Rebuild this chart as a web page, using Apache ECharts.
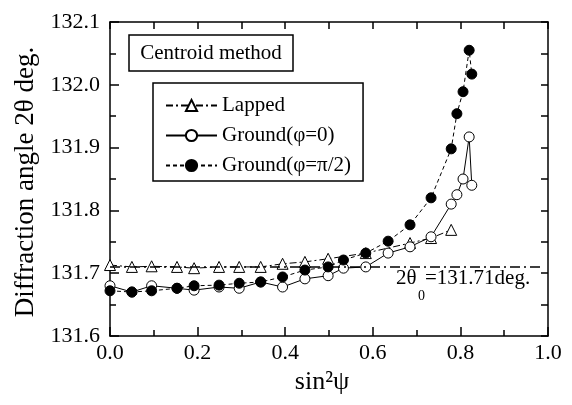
<!DOCTYPE html>
<html>
<head>
<meta charset="utf-8">
<script src="https://cdn.jsdelivr.net/npm/echarts@6/dist/echarts.min.js"></script>
<style>
  html, body { margin: 0; padding: 0; background: #fff; }
  #main { width: 572px; height: 405px; }
</style>
</head>
<body>
<div id="main"></div>
<script>
// sin^2(psi) positions
var lappedX = [0, 0.05, 0.095, 0.153, 0.192, 0.249, 0.295, 0.344, 0.394, 0.445, 0.498, 0.584, 0.685, 0.733, 0.779];
var lappedY = [131.713, 131.710, 131.711, 131.710, 131.708, 131.710, 131.710, 131.710, 131.715, 131.718, 131.723, 131.732, 131.748, 131.756, 131.769];

var groundX = [0, 0.05, 0.095, 0.153, 0.192, 0.249, 0.295, 0.344, 0.394, 0.445, 0.498, 0.533, 0.584, 0.635, 0.685, 0.733, 0.779, 0.792, 0.806, 0.820, 0.826];
var ground0Y = [131.680, 131.670, 131.680, 131.676, 131.673, 131.678, 131.676, 131.686, 131.678, 131.691, 131.696, 131.708, 131.710, 131.732, 131.742, 131.758, 131.810, 131.825, 131.850, 131.917, 131.840];
var groundPiY = [131.672, 131.670, 131.672, 131.676, 131.680, 131.681, 131.684, 131.686, 131.694, 131.705, 131.710, 131.721, 131.732, 131.751, 131.777, 131.820, 131.898, 131.954, 131.989, 132.055, 132.017];

var theta0 = 131.71;   // 2θ0 reference
var xTicks = [0, 1];
var yTicks = [131.6, 132.1];

function zip(xs, ys) {
    return xs.map(function (x, i) { return [x, ys[i]]; });
}

var FONT = 'Liberation Serif';
var myChart = echarts.init(document.getElementById('main'));

var axisBase = {
    type: 'value',
    axisLine: { show: true, onZero: false, lineStyle: { color: '#000', width: 1.5 } },
    splitLine: { show: false },
    axisLabel: { color: '#000', fontFamily: FONT, fontSize: 22 }
};

var option = {
    backgroundColor: '#fff',
    animation: false,
    grid: { left: 110, right: 24, top: 22, bottom: 69, outerBoundsMode: 'none' },
    legend: {
        orient: 'vertical',
        left: 153,
        top: 83,
        padding: [12, 12, 5, 12],
        itemGap: 9,
        itemWidth: 51,
        itemHeight: 14,
        borderColor: '#000',
        borderWidth: 1.5,
        textStyle: { color: '#000', fontFamily: FONT, fontSize: 21 },
        data: ['Lapped', 'Ground(φ=0)', 'Ground(φ=π/2)']
    },
    xAxis: [
        Object.assign({}, axisBase, {
            position: 'bottom',
            min: xTicks[0], max: xTicks[1], interval: 0.2,
            name: 'sin²ψ',
            nameLocation: 'middle',
            nameGap: 29,
            nameTextStyle: { color: '#000', fontFamily: FONT, fontSize: 26, padding: [0, 14, 0, 0] },
            axisTick: { inside: true, length: 9, lineStyle: { color: '#000', width: 1.5 } },
            minorTick: { show: true, splitNumber: 2, length: 6, lineStyle: { color: '#000', width: 1.5 } },
            axisLabel: { color: '#000', fontFamily: FONT, fontSize: 22, margin: 6,
                formatter: function (v) { return v.toFixed(1); } }
        }),
        Object.assign({}, axisBase, {
            position: 'top',
            min: xTicks[0], max: xTicks[1], interval: 0.1,
            axisTick: { inside: true, length: 7, lineStyle: { color: '#000', width: 1.5 } },
            axisLabel: { show: false }
        })
    ],
    yAxis: [
        Object.assign({}, axisBase, {
            position: 'left',
            min: yTicks[0], max: yTicks[1], interval: 0.1,
            axisTick: { inside: true, length: 9, lineStyle: { color: '#000', width: 1.5 } },
            minorTick: { show: true, splitNumber: 2, length: 6, lineStyle: { color: '#000', width: 1.5 } },
            axisLabel: { color: '#000', fontFamily: FONT, fontSize: 22, margin: 10,
                formatter: function (v) { return v.toFixed(1); } }
        }),
        Object.assign({}, axisBase, {
            position: 'right',
            min: yTicks[0], max: yTicks[1], interval: 0.05,
            axisTick: { inside: true, length: 7, lineStyle: { color: '#000', width: 1.5 } },
            axisLabel: { show: false }
        })
    ],
    series: [
        {
            name: 'Lapped',
            type: 'line',
            data: zip(lappedX, lappedY),
            symbol: 'triangle',
            symbolSize: 11,
            itemStyle: { color: '#fff', borderColor: '#000', borderWidth: 1 },
            lineStyle: { color: '#000', width: 1, type: [7, 3, 2, 3] },
            markLine: {
                silent: true,
                symbol: 'none',
                label: { show: false },
                lineStyle: { color: '#000', width: 1.5, type: [10, 4, 2, 4] },
                data: [[{ coord: [0, theta0] }, { coord: [0.99, theta0] }]]
            }
        },
        {
            name: 'Ground(φ=0)',
            type: 'line',
            data: zip(groundX, ground0Y),
            symbol: 'circle',
            symbolSize: 10,
            itemStyle: { color: '#fff', borderColor: '#000', borderWidth: 1 },
            lineStyle: { color: '#000', width: 1, type: 'solid' }
        },
        {
            name: 'Ground(φ=π/2)',
            type: 'line',
            data: zip(groundX, groundPiY),
            symbol: 'circle',
            symbolSize: 10,
            itemStyle: { color: '#000', borderColor: '#000', borderWidth: 1 },
            lineStyle: { color: '#000', width: 1, type: [4, 3] }
        }
    ],
    graphic: [
        {
            // y axis title
            type: 'text',
            x: 26, y: 182,
            rotation: Math.PI / 2,
            style: { text: 'Diffraction angle 2θ deg.', fill: '#000', font: '27px "Liberation Serif"', align: 'center', verticalAlign: 'middle' }
        },
        {
            type: 'rect',
            shape: { x: 129, y: 35, width: 164, height: 36 },
            style: { fill: '#fff', stroke: '#000', lineWidth: 1.5 }
        },
        {
            type: 'text',
            x: 211, y: 53,
            style: { text: 'Centroid method', fill: '#000', font: '21px "Liberation Serif"', align: 'center', verticalAlign: 'middle' }
        },
        {
            type: 'text',
            x: 396, y: 278,
            style: { text: '2θ', fill: '#000', font: '21px "Liberation Serif"', verticalAlign: 'middle' }
        },
        {
            type: 'text',
            x: 418, y: 296,
            style: { text: '0', fill: '#000', font: '14px "Liberation Serif"', verticalAlign: 'middle' }
        },
        {
            type: 'text',
            x: 425, y: 278,
            style: { text: '=131.71deg.', fill: '#000', font: '21px "Liberation Serif"', verticalAlign: 'middle' }
        }
    ]
};

myChart.setOption(option);
</script>
</body>
</html>
